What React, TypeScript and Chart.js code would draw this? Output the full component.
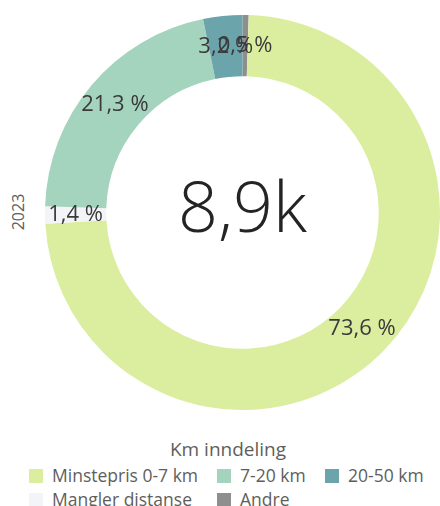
import React, { useEffect, useRef } from "react";
import { Chart, registerables } from "chart.js";

Chart.register(...registerables);

// Data (drawing order, clockwise from 12 o'clock)
const categories = ["Andre", "Minstepris 0-7 km", "Mangler distanse", "7-20 km", "20-50 km"];
const shares = [0.5, 73.6, 1.4, 21.3, 3.2];
const sliceColors = ["#8e8e8e", "#dbeea0", "#f3f4f7", "#a4d3be", "#6ba5ab"];
const legendOrder = ["Minstepris 0-7 km", "7-20 km", "20-50 km", "Mangler distanse", "Andre"];
const legendTitle = "Km inndeling";
const centerLabel = "8,9k";
const yearLabel = "2023";

const FONT = "'Open Sans', 'Noto Sans', sans-serif";

const fmt = (v: number) => v.toFixed(1).replace(".", ",") + " %";

const labelPlugin = {
  id: "sliceLabels",
  afterDatasetsDraw(chart: any) {
    const ctx = chart.ctx;
    const meta = chart.getDatasetMeta(0);
    ctx.save();
    ctx.font = `22px ${FONT}`;
    ctx.fillStyle = "#3a3a3a";
    ctx.textAlign = "center";
    ctx.textBaseline = "middle";
    meta.data.forEach((arc: any, i: number) => {
      const p = arc.getCenterPoint();
      ctx.fillText(fmt(shares[i]), p.x, p.y);
    });
    // center text
    const cx = (chart.chartArea.left + chart.chartArea.right) / 2;
    const cy = (chart.chartArea.top + chart.chartArea.bottom) / 2;
    ctx.font = `300 70px ${FONT}`;
    ctx.fillStyle = "#252423";
    ctx.textBaseline = "alphabetic";
    ctx.fillText(centerLabel, cx, cy + 19.5);
    ctx.restore();
  },
};

export default function App() {
  const ref = useRef<HTMLCanvasElement | null>(null);

  useEffect(() => {
    if (!ref.current) return;
    const chart = new Chart(ref.current, {
      type: "doughnut",
      data: {
        labels: categories,
        datasets: [
          {
            data: shares,
            backgroundColor: sliceColors,
            borderWidth: 0,
            hoverOffset: 0,
          },
        ],
      },
      options: {
        responsive: false,
        animation: false,
        cutout: "69%",
        layout: { padding: 0 },
        plugins: {
          legend: { display: false },
          tooltip: { enabled: false },
        },
      },
      plugins: [labelPlugin],
    });
    return () => chart.destroy();
  }, []);

  const colX = [29, 217, 325];
  const rowY = [469, 493];

  return (
    <div
      style={{
        position: "fixed",
        left: 0,
        top: 0,
        width: 440,
        height: 506,
        background: "#ffffff",
        overflow: "hidden",
        fontFamily: FONT,
      }}
    >
      <canvas
        ref={ref}
        width={395}
        height={395}
        style={{ position: "absolute", left: 45, top: 15, width: 395, height: 395 }}
      />
      <div
        style={{
          position: "absolute",
          left: 18,
          top: 212,
          transform: "translate(-50%, -50%) rotate(-90deg)",
          fontSize: 16,
          color: "#605e5c",
          whiteSpace: "nowrap",
          lineHeight: 1,
        }}
      >
        {yearLabel}
      </div>
      <div
        style={{
          position: "absolute",
          left: 228,
          top: 449,
          transform: "translate(-50%, -50%)",
          fontSize: 19,
          color: "#605e5c",
          whiteSpace: "nowrap",
          lineHeight: 1,
        }}
      >
        {legendTitle}
      </div>
      {legendOrder.map((name, i) => {
        const idx = categories.indexOf(name);
        const col = i % 3;
        const row = Math.floor(i / 3);
        return (
          <div
            key={name}
            style={{
              position: "absolute",
              left: colX[col],
              top: rowY[row],
              height: 14,
              display: "flex",
              alignItems: "center",
              whiteSpace: "nowrap",
            }}
          >
            <span
              style={{
                display: "inline-block",
                width: 14,
                height: 14,
                background: sliceColors[idx],
                marginRight: 9,
              }}
            />
            <span style={{ fontSize: 17.5, color: "#605e5c", lineHeight: 1 }}>{name}</span>
          </div>
        );
      })}
    </div>
  );
}
